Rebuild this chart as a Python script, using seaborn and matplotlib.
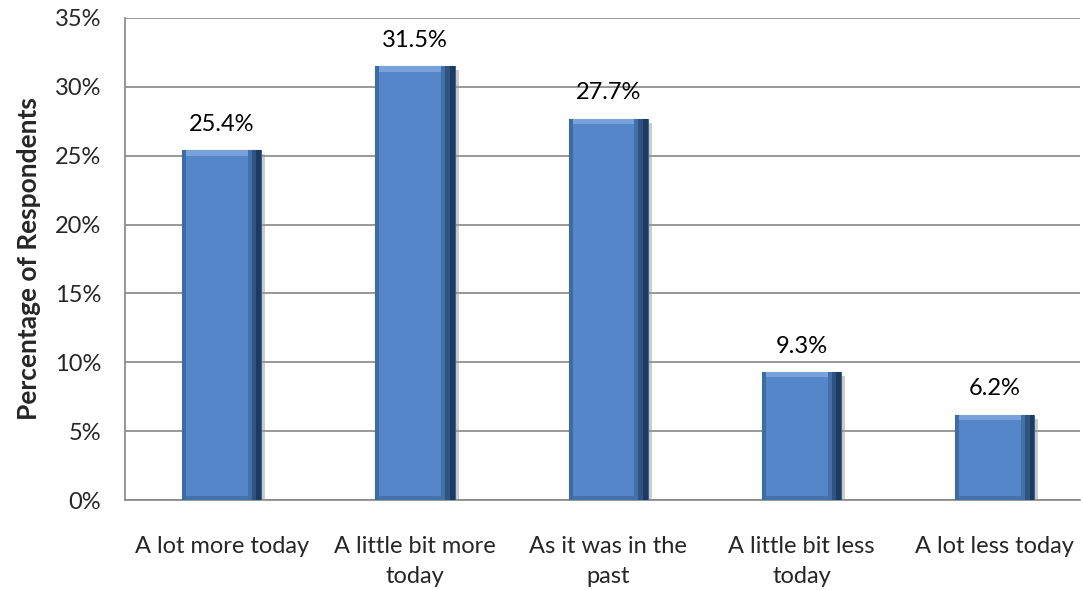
import matplotlib
matplotlib.use("Agg")
import matplotlib.pyplot as plt
import matplotlib.patheffects as pe
from matplotlib.patches import Rectangle
import seaborn as sns
import pandas as pd
from matplotlib.ticker import FuncFormatter, FixedLocator

categories = ["A lot more today", "A little bit more\ntoday", "As it was in the\npast",
              "A little bit less\ntoday", "A lot less today"]
values = [25.4, 31.5, 27.7, 9.3, 6.2]
labels = ["25.4%", "31.5%", "27.7%", "9.3%", "6.2%"]

sns.set_style("white")
plt.rcParams["font.family"] = ["Lato", "DejaVu Sans"]

df = pd.DataFrame({"category": categories, "value": values})

fig = plt.figure(figsize=(10.83, 5.90), dpi=100)
ax = fig.add_axes([0.1154, 0.1525, 0.8816, 0.817])

sns.barplot(data=df, x="category", y="value", color="#5586C9", width=0.41,
            edgecolor="#3A6395", linewidth=0.8, saturation=1, ax=ax, zorder=3)

# bevel look: darker sides, lighter top, soft shadow
for bar in list(ax.patches):
    bar.set_path_effects([pe.SimplePatchShadow(offset=(3, -3), shadow_rgbFace="#999999", alpha=0.5),
                          pe.Normal()])
    x, w, h = bar.get_x(), bar.get_width(), bar.get_height()
    ax.add_patch(Rectangle((x + w * 0.94, 0), w * 0.06, h, color="#1F3A5F", zorder=4, lw=0))
    ax.add_patch(Rectangle((x + w * 0.88, 0), w * 0.06, h, color="#2F5383", zorder=4, lw=0))
    ax.add_patch(Rectangle((x + w * 0.83, 0), w * 0.05, h, color="#4470A8", zorder=4, lw=0))
    ax.add_patch(Rectangle((x, 0), w * 0.05, h, color="#3F6BA3", zorder=4, lw=0))
    ax.add_patch(Rectangle((x + w * 0.05, h - 0.4), w * 0.78, 0.4, color="#78A3DA", zorder=4, lw=0))
    ax.add_patch(Rectangle((x + w * 0.05, 0), w * 0.78, 0.3, color="#4672AA", zorder=4, lw=0))

for i, (v, lab) in enumerate(zip(values, labels)):
    ax.text(i, v + 1.1, lab, ha="center", va="bottom", fontsize=17, color="black")

ax.set_ylim(0, 35)
ax.set_xlim(-0.5, 4.44)
ax.set_yticks(range(0, 36, 5))
ax.yaxis.set_major_formatter(FuncFormatter(lambda y, _: f"{int(y)}%"))
ax.yaxis.grid(True, color="#868686", linewidth=1.2, zorder=0)
ax.set_axisbelow(True)

ax.xaxis.set_minor_locator(FixedLocator([-0.5, 0.5, 1.5, 2.5, 3.5]))
ax.tick_params(axis="x", which="major", length=0, labelsize=17, pad=26)
ax.tick_params(axis="x", which="minor", length=7, width=1.2, color="#868686", direction="out")
ax.tick_params(axis="y", length=7, width=1.2, color="#868686", direction="out", labelsize=17, pad=10)
for t in ax.get_xticklabels():
    t.set_linespacing(1.5)

for s in ["top", "right"]:
    ax.spines[s].set_visible(False)
for s in ["left", "bottom"]:
    ax.spines[s].set_color("#868686")
    ax.spines[s].set_linewidth(1.2)

ax.set_xlabel("")
ax.set_ylabel("Percentage of Respondents", fontsize=19, fontweight="bold", labelpad=10)

fig.savefig("out.png", dpi=100)
